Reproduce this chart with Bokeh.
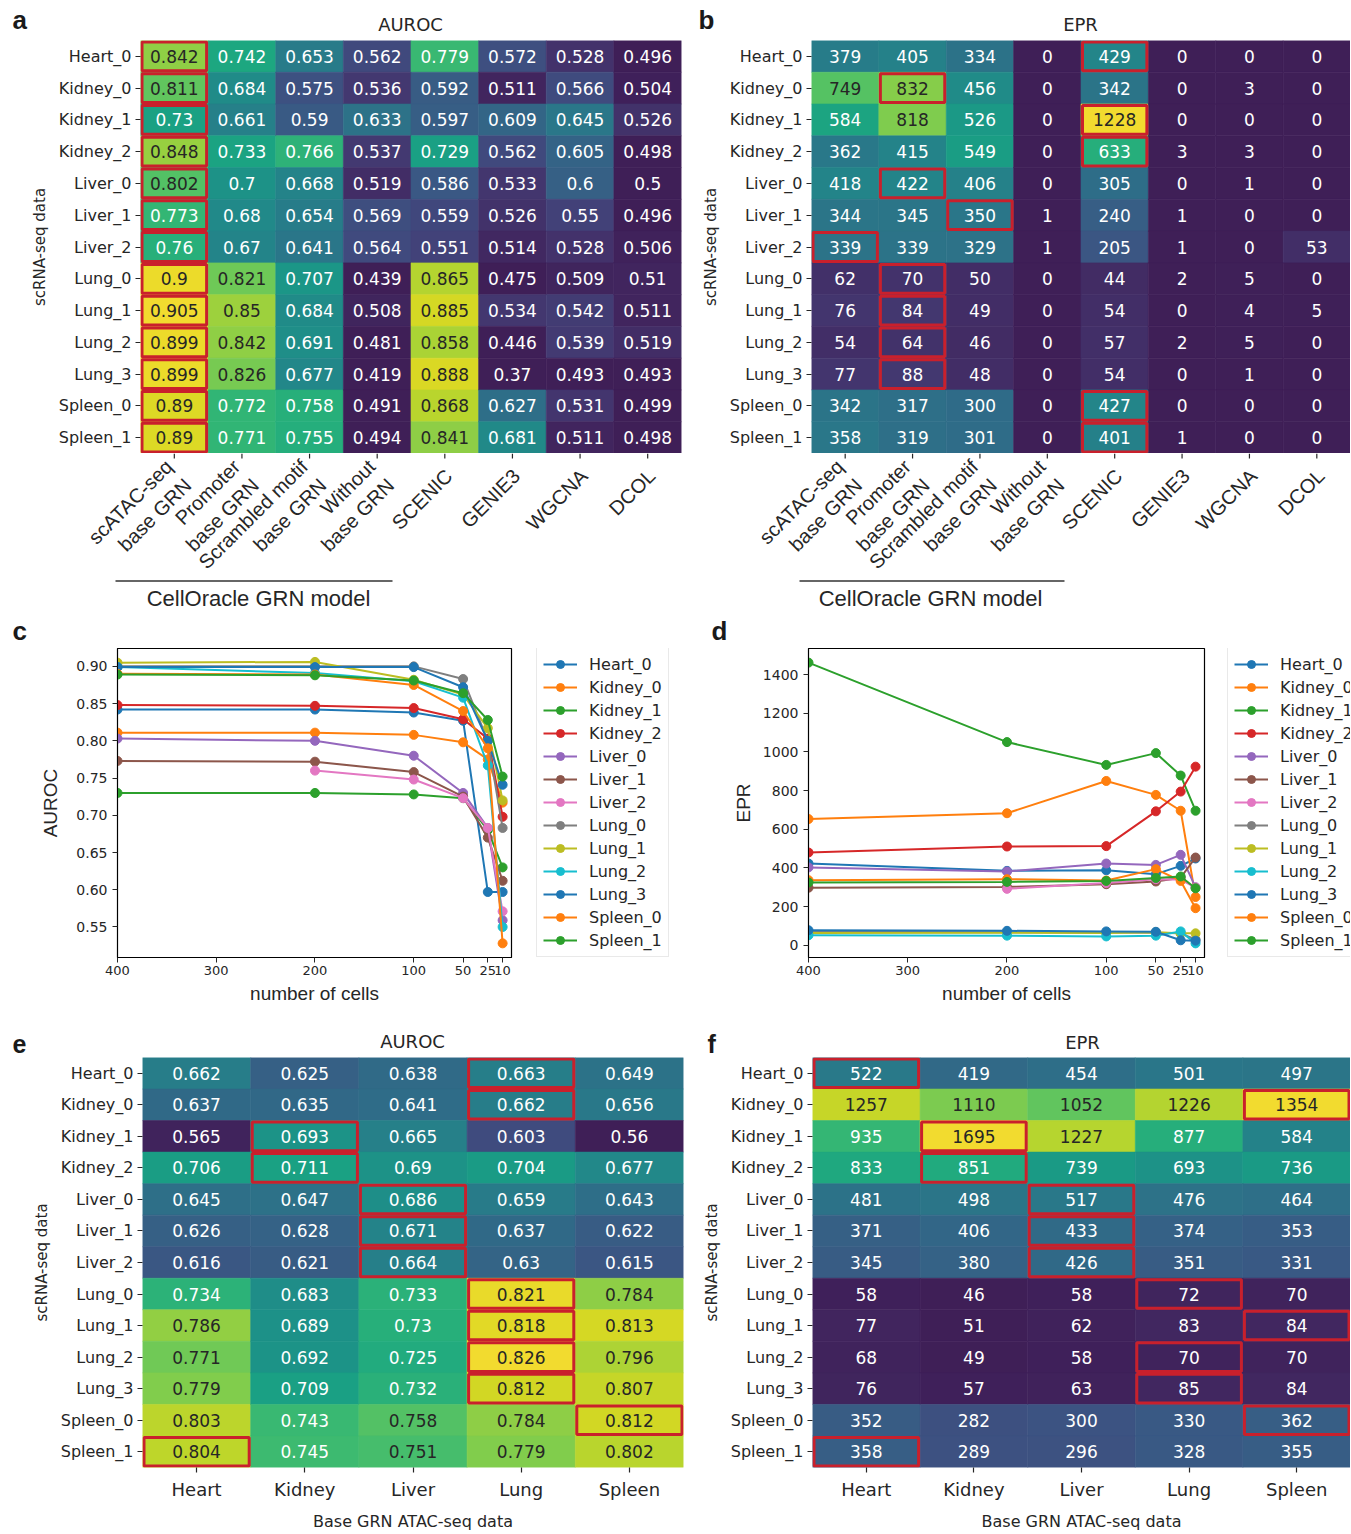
import math
import numpy as np
from bokeh.plotting import figure
from bokeh.models import (FactorRange, Range1d, FixedTicker, Legend, LegendItem,
                          ColumnDataSource, NumeralTickFormatter)
from bokeh.transform import linear_cmap
from bokeh.layouts import row, column
from bokeh.core.properties import value
from bokeh.palettes import Viridis256, Category10
from bokeh.embed import file_html
from bokeh.resources import INLINE

# ---------------- data ----------------
ROWS = ["Heart_0", "Kidney_0", "Kidney_1", "Kidney_2", "Liver_0", "Liver_1", "Liver_2",
        "Lung_0", "Lung_1", "Lung_2", "Lung_3", "Spleen_0", "Spleen_1"]
MODELS = ["scATAC-seq\nbase GRN", "Promoter\nbase GRN", "Scrambled motif\nbase GRN",
          "Without\nbase GRN", "SCENIC", "GENIE3", "WGCNA", "DCOL"]
TISSUES = ["Heart", "Kidney", "Liver", "Lung", "Spleen"]

# panel a: AUROC per GRN model (columns), rows = ROWS
a_scatac = [0.842, 0.811, 0.73, 0.848, 0.802, 0.773, 0.76, 0.9, 0.905, 0.899, 0.899, 0.89, 0.89]
a_promoter = [0.742, 0.684, 0.661, 0.733, 0.7, 0.68, 0.67, 0.821, 0.85, 0.842, 0.826, 0.772, 0.771]
a_scrambled = [0.653, 0.575, 0.59, 0.766, 0.668, 0.654, 0.641, 0.707, 0.684, 0.691, 0.677, 0.758, 0.755]
a_without = [0.562, 0.536, 0.633, 0.537, 0.519, 0.569, 0.564, 0.439, 0.508, 0.481, 0.419, 0.491, 0.494]
a_scenic = [0.779, 0.592, 0.597, 0.729, 0.586, 0.559, 0.551, 0.865, 0.885, 0.858, 0.888, 0.868, 0.841]
a_genie3 = [0.572, 0.511, 0.609, 0.562, 0.533, 0.526, 0.514, 0.475, 0.534, 0.446, 0.37, 0.627, 0.681]
a_wgcna = [0.528, 0.566, 0.645, 0.605, 0.6, 0.55, 0.528, 0.509, 0.542, 0.539, 0.493, 0.531, 0.511]
a_dcol = [0.496, 0.504, 0.526, 0.498, 0.5, 0.496, 0.506, 0.51, 0.511, 0.519, 0.493, 0.499, 0.498]

# panel b: EPR per GRN model
b_scatac = [379, 749, 584, 362, 418, 344, 339, 62, 76, 54, 77, 342, 358]
b_promoter = [405, 832, 818, 415, 422, 345, 339, 70, 84, 64, 88, 317, 319]
b_scrambled = [334, 456, 526, 549, 406, 350, 329, 50, 49, 46, 48, 300, 301]
b_without = [0, 0, 0, 0, 0, 1, 1, 0, 0, 0, 0, 0, 0]
b_scenic = [429, 342, 1228, 633, 305, 240, 205, 44, 54, 57, 54, 427, 401]
b_genie3 = [0, 0, 0, 3, 0, 1, 1, 2, 0, 2, 0, 0, 1]
b_wgcna = [0, 3, 0, 3, 1, 0, 0, 5, 4, 5, 1, 0, 0]
b_dcol = [0, 0, 0, 0, 0, 0, 53, 0, 5, 0, 0, 0, 0]

# panels c, d: number of cells
CELLS = [400, 200, 100, 50, 25, 10]
c_auroc = {
    "Heart_0": [0.842, 0.842, 0.838, 0.827, 0.597, 0.597],
    "Kidney_0": [0.811, 0.811, 0.808, 0.798, 0.775, 0.717],
    "Kidney_1": [0.730, 0.730, 0.728, 0.723, 0.680, 0.630],
    "Kidney_2": [0.848, 0.847, 0.844, 0.829, 0.803, 0.698],
    "Liver_0": [0.803, 0.800, 0.780, 0.730, 0.683, 0.559],
    "Liver_1": [0.773, 0.772, 0.758, 0.725, 0.670, 0.612],
    "Liver_2": [np.nan, 0.760, 0.748, 0.723, 0.683, 0.571],
    "Lung_0": [0.900, 0.900, 0.900, 0.883, 0.800, 0.683],
    "Lung_1": [0.905, 0.906, 0.882, 0.862, 0.817, 0.720],
    "Lung_2": [0.899, 0.891, 0.880, 0.858, 0.767, 0.550],
    "Lung_3": [0.899, 0.899, 0.899, 0.872, 0.800, 0.741],
    "Spleen_0": [0.890, 0.889, 0.875, 0.840, 0.790, 0.528],
    "Spleen_1": [0.889, 0.888, 0.881, 0.864, 0.828, 0.752],
}
d_epr = {
    "Heart_0": [423, 385, 388, 368, 411, 449],
    "Kidney_0": [653, 683, 850, 778, 696, 250],
    "Kidney_1": [1462, 1051, 933, 994, 878, 696],
    "Kidney_2": [480, 511, 513, 693, 795, 924],
    "Liver_0": [403, 382, 423, 416, 468, 300],
    "Liver_1": [298, 302, 316, 330, 350, 454],
    "Liver_2": [np.nan, 292, 322, 342, 340, 299],
    "Lung_0": [70, 68, 66, 65, 62, 30],
    "Lung_1": [64, 65, 64, 68, 62, 62],
    "Lung_2": [52, 50, 46, 50, 72, 10],
    "Lung_3": [78, 75, 72, 70, 26, 24],
    "Spleen_0": [337, 342, 335, 394, 333, 192],
    "Spleen_1": [325, 328, 333, 348, 356, 295],
}

# panel e: AUROC per base GRN tissue
e_heart = [0.662, 0.637, 0.565, 0.706, 0.645, 0.626, 0.616, 0.734, 0.786, 0.771, 0.779, 0.803, 0.804]
e_kidney = [0.625, 0.635, 0.693, 0.711, 0.647, 0.628, 0.621, 0.683, 0.689, 0.692, 0.709, 0.743, 0.745]
e_liver = [0.638, 0.641, 0.665, 0.69, 0.686, 0.671, 0.664, 0.733, 0.73, 0.725, 0.732, 0.758, 0.751]
e_lung = [0.663, 0.662, 0.603, 0.704, 0.659, 0.637, 0.63, 0.821, 0.818, 0.826, 0.812, 0.784, 0.779]
e_spleen = [0.649, 0.656, 0.56, 0.677, 0.643, 0.622, 0.615, 0.784, 0.813, 0.796, 0.807, 0.812, 0.802]

# panel f: EPR per base GRN tissue
f_heart = [522, 1257, 935, 833, 481, 371, 345, 58, 77, 68, 76, 352, 358]
f_kidney = [419, 1110, 1695, 851, 498, 406, 380, 46, 51, 49, 57, 282, 289]
f_liver = [454, 1052, 1227, 739, 517, 433, 426, 58, 62, 58, 63, 300, 296]
f_lung = [501, 1226, 877, 693, 476, 374, 351, 72, 83, 70, 85, 330, 328]
f_spleen = [497, 1354, 584, 736, 464, 353, 331, 70, 84, 70, 84, 362, 355]

# ---------------- style ----------------
DV = "DejaVu Sans"
LS = "Liberation Sans"
INK = "#262626"
RED = "#c9202c"


def soften(h):
    r, g, b = int(h[1:3], 16), int(h[3:5], 16), int(h[5:7], 16)
    r2 = min(255, max(0, round(r * 0.97 - 3)))
    g2 = min(255, max(0, round(g * 0.82 + 30)))
    b2 = min(255, max(0, round(b * 0.85 + 16)))
    return "#%02x%02x%02x" % (r2, g2, b2)


PAL = [soften(c) for c in Viridis256]


def canvas(x0, y0, w, h):
    """Plain text/decoration strip; its coordinates equal page pixels."""
    p = figure(width=w, height=h, x_range=Range1d(x0, x0 + w), y_range=Range1d(y0 + h, y0),
               output_backend="svg", toolbar_location=None, min_border=0,
               x_axis_type=None, y_axis_type=None)
    p.outline_line_color = None
    p.grid.visible = False
    return p


def put(p, x, y, txt, font, size, style="normal", align="center", baseline="middle",
        color=INK, angle=0.0):
    p.text(x=[x], y=[y], text=[txt], text_font=value(font), text_font_size=value("%dpx" % size),
           text_font_style=style, text_align=align, text_baseline=baseline, text_color=color,
           angle=angle)


def heatmap(origin, size, frame, xfactors, columns, low, high, fmt, show_xaxis, xfont, xsize):
    ox, oy = origin
    W, H = size
    fl, ft, fr, fb = frame
    p = figure(width=W, height=H, x_range=FactorRange(*xfactors),
               y_range=FactorRange(*ROWS[::-1]), output_backend="svg",
               toolbar_location=None,
               min_border_left=fl - ox, min_border_right=ox + W - fr,
               min_border_top=ft - oy, min_border_bottom=oy + H - fb)
    xs, ys, vs, ts, tcs = [], [], [], [], []
    for j, f in enumerate(xfactors):
        for i, r in enumerate(ROWS):
            v = columns[j][i]
            xs.append(f)
            ys.append(r)
            vs.append(v)
            ts.append(fmt(v))
            norm = (min(max(v, low), high) - low) / (high - low)
            tcs.append(INK if norm >= 0.70 else "#ffffff")
    src = ColumnDataSource(dict(x=xs, y=ys, v=vs, t=ts, tc=tcs))
    cmap = linear_cmap("v", PAL, low, high)
    p.rect(x="x", y="y", width=1, height=1, source=src, fill_color=cmap,
           line_color=cmap, line_width=0.6)
    p.text(x="x", y="y", text="t", text_color="tc", text_align="center",
           text_baseline="middle", text_font=value(DV), text_font_size="17px",
           source=src)
    # highlight the best value of each row
    bx, by = [], []
    for i, r in enumerate(ROWS):
        vals = [columns[j][i] for j in range(len(xfactors))]
        bx.append(xfactors[int(np.argmax(vals))])
        by.append(r)
    colw = (fr - fl) / len(xfactors)
    rowh = (fb - ft) / len(ROWS)
    p.rect(x=bx, y=by, width=1 - 3.0 / colw, height=1 - 3.0 / rowh,
           fill_color=None, line_color=RED, line_width=3)

    p.grid.visible = False
    p.outline_line_color = None
    for ax in (p.xaxis[0], p.yaxis[0]):
        ax.axis_line_color = None
        ax.major_tick_in = 0
        ax.major_tick_out = 5
        ax.major_tick_line_color = INK
        ax.major_tick_line_width = 1.2
        ax.major_label_text_color = INK
    p.yaxis.major_label_text_font = DV
    p.yaxis.major_label_text_font_size = "16px"
    p.yaxis.major_label_standoff = 4
    p.yaxis.axis_label = "scRNA-seq data"
    p.yaxis.axis_label_text_font = DV
    p.yaxis.axis_label_text_font_size = "15px"
    p.yaxis.axis_label_text_font_style = "normal"
    p.yaxis.axis_label_text_color = INK
    p.yaxis.axis_label_standoff = 7
    if show_xaxis:
        p.xaxis.major_label_text_font = xfont
        p.xaxis.major_label_text_font_size = "%dpx" % xsize
        p.xaxis.major_label_standoff = 6
    else:
        # the long rotated model names (and their ticks) are set in the strip below
        p.xaxis.visible = False
    return p


def style_line_axes(p, ylabel, ystand):
    p.grid.visible = False
    p.outline_line_color = "#000000"
    p.outline_line_width = 1.2
    for ax in (p.xaxis[0], p.yaxis[0]):
        ax.axis_line_color = "#000000"
        ax.major_tick_in = 0
        ax.major_tick_out = 5
        ax.minor_tick_line_color = None
        ax.major_tick_line_color = INK
        ax.major_label_text_font = DV
        ax.major_label_text_color = INK
        ax.axis_label_text_font = LS
        ax.axis_label_text_font_size = "19px"
        ax.axis_label_text_font_style = "normal"
        ax.axis_label_text_color = INK
    p.xaxis.major_label_text_font_size = "13px"
    p.yaxis.major_label_text_font_size = "14px"
    p.xaxis.major_label_standoff = 3
    p.xaxis.axis_label = "number of cells"
    p.xaxis.axis_label_standoff = 5
    p.yaxis.axis_label = ylabel
    p.yaxis.axis_label_standoff = ystand


def draw_series(p, series):
    pal = Category10[10]
    out = []
    for k, name in enumerate(ROWS):
        col = pal[k % 10]
        ys = np.array(series[name], dtype=float)
        lr = p.line(CELLS, ys, line_color=col, line_width=2)
        sr = p.scatter(CELLS, ys, size=9, fill_color=col, line_color=col)
        out.append((name, lr, sr))
    return out


def lineplot(origin, size, frame, series, yr, yticks, yfmt, ylabel, ystand):
    ox, oy = origin
    W, H = size
    fl, ft, fr, fb = frame
    p = figure(width=W, height=H, x_range=Range1d(400, 1), y_range=Range1d(*yr),
               output_backend="svg", toolbar_location=None,
               min_border_left=fl - ox, min_border_right=ox + W - fr,
               min_border_top=ft - oy, min_border_bottom=oy + H - fb)
    draw_series(p, series)
    p.xaxis.ticker = FixedTicker(ticks=[400, 300, 200, 100, 50, 25, 10])
    p.yaxis.ticker = FixedTicker(ticks=yticks)
    p.yaxis.formatter = NumeralTickFormatter(format=yfmt)
    style_line_axes(p, ylabel, ystand)
    return p


def legend_box(width, height, series, left, bottom):
    """Legend strip beside a line plot; the series are drawn again but lie outside
    this strip's ranges, so only the legend (same glyphs) shows."""
    p = figure(width=width, height=height, x_range=Range1d(-2, -1), y_range=Range1d(-2, -1),
               output_backend="svg", toolbar_location=None, min_border=0,
               x_axis_type=None, y_axis_type=None)
    p.outline_line_color = None
    p.grid.visible = False
    items = [LegendItem(label=n, renderers=[lr, sr]) for n, lr, sr in draw_series(p, series)]
    leg = Legend(items=items, location=(left, bottom), label_text_font=DV,
                 label_text_font_size="16px", label_text_color=INK,
                 glyph_width=34, glyph_height=20, label_height=20, spacing=3,
                 padding=6, margin=0, label_standoff=12,
                 border_line_color="#d4d4d4", border_line_width=1,
                 background_fill_color="white", background_fill_alpha=1)
    p.add_layout(leg)
    return p


def fmt_auc(v):
    return "{:.3g}".format(v)


def fmt_int(v):
    return "%d" % v


# ---------------- row 1: panels a and b ----------------
A_FRAME = (140, 40, 681, 453)
B_FRAME = (811, 40, 1350, 453)

top1 = canvas(0, 0, 1350, 40)
put(top1, 12, 19, "a", LS, 26, style="bold", align="left", color="#1a1a1a")
put(top1, 410, 24, "AUROC", DV, 18)
put(top1, 698, 19, "b", LS, 26, style="bold", align="left", color="#1a1a1a")
put(top1, 1080, 24, "EPR", DV, 18)

pa = heatmap((0, 40), (698, 413), A_FRAME, MODELS,
             [a_scatac, a_promoter, a_scrambled, a_without, a_scenic,
              a_genie3, a_wgcna, a_dcol], 0.5, 0.905, fmt_auc, False, LS, 20)
pb = heatmap((698, 40), (652, 413), B_FRAME, MODELS,
             [b_scatac, b_promoter, b_scrambled, b_without, b_scenic,
              b_genie3, b_wgcna, b_dcol], 0, 1000, fmt_int, False, LS, 20)

mid1 = canvas(0, 453, 1350, 193)
for fr_ in (A_FRAME, B_FRAME):
    colw = (fr_[2] - fr_[0]) / len(MODELS)
    tx = [fr_[0] + (j + 0.5) * colw for j in range(len(MODELS))]
    mid1.segment(x0=tx, y0=[453] * len(tx), x1=tx, y1=[458] * len(tx),
                 line_color=INK, line_width=1.2)
    for x, lab in zip(tx, MODELS):
        put(mid1, x + 4, 472, lab, LS, 20, align="right", baseline="middle",
            angle=math.pi / 4)
mid1.segment(x0=[115, 799], y0=[580.5, 580.5], x1=[392, 1064], y1=[580.5, 580.5],
             line_color="#333333", line_width=1.5)
put(mid1, 258, 598, "CellOracle GRN model", LS, 22)
put(mid1, 930, 598, "CellOracle GRN model", LS, 22)
put(mid1, 12, 630, "c", LS, 26, style="bold", align="left", color="#1a1a1a")
put(mid1, 711, 630, "d", LS, 26, style="bold", align="left", color="#1a1a1a")

# ---------------- row 2: panels c and d ----------------
pc = lineplot((0, 646), (530, 374), (117, 648, 511, 957), c_auroc,
              (0.509, 0.924), [0.55, 0.60, 0.65, 0.70, 0.75, 0.80, 0.85, 0.90],
              "0.00", "AUROC", 12)
legc = legend_box(168, 374, c_auroc, 6, 0)
pd_ = lineplot((698, 646), (518, 374), (808, 648, 1204, 957), d_epr,
               (-63, 1535), [0, 200, 400, 600, 800, 1000, 1200, 1400],
               "0", "EPR", 6)
legd = legend_box(134, 374, d_epr, 11, 0)

# ---------------- row 3: panels e and f ----------------
top3 = canvas(0, 1020, 1350, 37)
put(top3, 12, 1043, "e", LS, 25, style="bold", align="left", color="#1a1a1a")
put(top3, 412, 1041, "AUROC", DV, 18)
put(top3, 707, 1043, "f", LS, 25, style="bold", align="left", color="#1a1a1a")
put(top3, 1082, 1042, "EPR", DV, 18)

e_cols = [e_heart, e_kidney, e_liver, e_lung, e_spleen]
pe = heatmap((0, 1057), (698, 476), (142, 1057, 683, 1470), TISSUES, e_cols,
             min(min(c) for c in e_cols), max(max(c) for c in e_cols),
             fmt_auc, True, DV, 18)
pf = heatmap((698, 1057), (652, 476), (812, 1057, 1350, 1470), TISSUES,
             [f_heart, f_kidney, f_liver, f_lung, f_spleen], 46, 1354,
             fmt_int, True, DV, 18)
for p in (pe, pf):
    p.xaxis.axis_label = "Base GRN ATAC-seq data"
    p.xaxis.axis_label_text_font = DV
    p.xaxis.axis_label_text_font_size = "16px"
    p.xaxis.axis_label_text_font_style = "normal"
    p.xaxis.axis_label_text_color = INK
    p.xaxis.axis_label_standoff = 9

layout = column(top1, row(pa, pb, spacing=0), mid1, row(pc, legc, pd_, legd, spacing=0),
                top3, row(pe, pf, spacing=0), spacing=0)
open("out.html", "w").write(file_html(layout, INLINE))
